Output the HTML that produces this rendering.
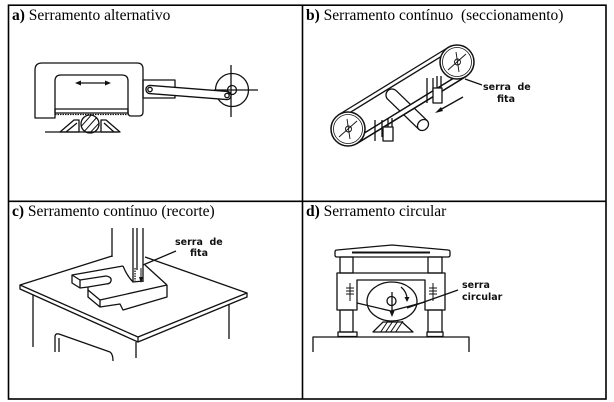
<!DOCTYPE html>
<html><head><meta charset="utf-8"><style>
html,body{margin:0;padding:0;background:#fff;}
svg{display:block;}
.t{font-family:"Liberation Serif",serif;font-size:15.5px;fill:#000;}
.l{font-family:"DejaVu Sans",sans-serif;font-weight:bold;font-size:9.5px;fill:#111;}
</style></head><body>
<svg width="614" height="402" viewBox="0 0 614 402" xmlns="http://www.w3.org/2000/svg">
<defs>
<clipPath id="cpa"><circle cx="90" cy="124" r="9"/></clipPath>
<clipPath id="cpd"><rect x="380" y="321" width="24" height="11"/></clipPath>
</defs>
<!-- table -->
<g stroke="#000" stroke-width="1.6" fill="none">
<rect x="8.5" y="5.2" width="597.5" height="393.8"/>
<line x1="302.5" y1="5" x2="302.5" y2="399"/>
<line x1="8" y1="201.3" x2="606" y2="201.3"/>
</g>
<text class="t" x="12" y="20"><tspan font-weight="bold">a)</tspan> Serramento alternativo</text>
<text class="t" x="306" y="20"><tspan font-weight="bold">b)</tspan> Serramento contínuo&#160; (seccionamento)</text>
<text class="t" x="12" y="216"><tspan font-weight="bold">c)</tspan> Serramento contínuo (recorte)</text>
<text class="t" x="306" y="216"><tspan font-weight="bold">d)</tspan> Serramento circular</text>

<!-- a) -->
<g stroke="#111" stroke-width="1.3" fill="none" stroke-linejoin="round">
<path d="M35,118 L35,70 Q35,63 42,63 L137,63 Q143,63 143,69 L143,112 Q143,116 139,116 L131,116 Q128,116 128,112 L128,81 Q128,75 122,75 L61,75 Q55,75 55,81 L55,118 Z"/>
<rect x="55" y="109" width="73" height="4"/>
<line x1="55" y1="114.5" x2="128" y2="114.5" stroke-dasharray="1.5 1"/>
<line x1="79" y1="83" x2="107" y2="83"/>
<rect x="143" y="80" width="32" height="18"/>
<circle cx="232" cy="90" r="16.5"/>
<line x1="231" y1="65" x2="231" y2="117"/>
<line x1="214" y1="90" x2="258" y2="90"/>
<line x1="150" y1="89.5" x2="227" y2="95.5" stroke-width="9.5" stroke-linecap="round"/>
<line x1="150" y1="89.5" x2="227" y2="95.5" stroke="#fff" stroke-width="6.8" stroke-linecap="round"/>
<circle cx="150" cy="89.5" r="2.2"/>
<circle cx="227" cy="95.5" r="2.2"/>
<circle cx="232" cy="90" r="4.5"/>
<line x1="45" y1="132" x2="118" y2="132"/>
<path d="M60,132 L74,120 L79,120 L79,132 Z"/>
<path d="M101,132 L101,120 L106,120 L120,132 Z"/>
<line x1="66" y1="132" x2="77" y2="123"/>
<line x1="104" y1="123" x2="114" y2="132"/>
<circle cx="90" cy="124" r="9"/>
<g clip-path="url(#cpa)" stroke-width="1">
<line x1="78" y1="130" x2="94" y2="112"/><line x1="82" y1="134" x2="98" y2="116"/><line x1="86" y1="137" x2="102" y2="120"/><line x1="74" y1="126" x2="90" y2="110"/>
</g>
</g>
<g fill="#111">
<polygon points="75,83 81,80.5 81,85.5"/>
<polygon points="111,83 105,80.5 105,85.5"/>
</g>

<!-- b) -->
<g stroke="#111" stroke-width="1.3" fill="none" stroke-linejoin="round">
<!-- cylinder -->
<path d="M387.8,99.3 L418.8,129.3 M396.2,90.7 L427.2,120.7 M387.8,99.3 A6,6 0 0 1 396.2,90.7"/>
<ellipse cx="423" cy="125" rx="6" ry="5" transform="rotate(-45 423 125)"/>
<!-- band -->
<polygon points="356.9,143.5 465.9,76.5 463.3,72.2 354.3,139.2" fill="#fff"/>
<line x1="339.1" y1="114.5" x2="448.1" y2="47.5"/>
<line x1="341.2" y1="117.9" x2="450.2" y2="50.9"/>
<line x1="356.9" y1="143.5" x2="465.9" y2="76.5" stroke-width="1.5"/>
<line x1="354.3" y1="139.2" x2="463.3" y2="72.2"/>
<circle cx="348" cy="129" r="17" fill="#fff" stroke-width="1.5"/>
<circle cx="348" cy="129" r="14.5" stroke-width="0.8"/>
<circle cx="457" cy="62" r="17" fill="#fff" stroke-width="1.5"/>
<circle cx="457" cy="62" r="14.5" stroke-width="0.8"/>
<g stroke-width="0.9">
<line x1="339" y1="137" x2="357" y2="121"/><line x1="347" y1="119" x2="350" y2="139"/><circle cx="348.5" cy="129" r="3"/>
<line x1="448" y1="70" x2="466" y2="54"/><line x1="456" y1="52" x2="459" y2="72"/><circle cx="457.5" cy="62" r="3"/>
</g>
<!-- guides -->
<line x1="375" y1="120" x2="375" y2="141"/><line x1="382" y1="120" x2="382" y2="137"/>
<line x1="388" y1="118" x2="388" y2="128"/><line x1="392" y1="118" x2="392" y2="128"/>
<rect x="383" y="127" width="10" height="14" fill="#fff"/>
<line x1="427" y1="78" x2="427" y2="103"/><line x1="433" y1="78" x2="433" y2="92"/>
<line x1="437" y1="76" x2="437" y2="88"/><line x1="441" y1="76" x2="441" y2="88"/>
<rect x="433" y="88" width="9" height="15" fill="#fff"/>
<!-- arrow & leader -->
<line x1="463" y1="97" x2="439" y2="110.5"/>
<line x1="465" y1="79" x2="482" y2="85"/>
</g>
<polygon points="435,113 441,107 443,111" fill="#111"/>
<text class="l" x="483" y="90">serra&#160; de</text>
<text class="l" x="497" y="102">fita</text>

<!-- c) -->
<g stroke="#111" stroke-width="1.3" fill="none" stroke-linejoin="round">
<polyline points="112,256 20,285 138,337 247,293 145,257"/>
<polyline points="20,285 20,289 138,342 247,297 247,293"/>
<line x1="138" y1="337" x2="138" y2="342"/>
<line x1="33" y1="295" x2="33" y2="347"/>
<line x1="136" y1="342" x2="136" y2="358"/>
<line x1="229" y1="304" x2="229" y2="339"/>
<path d="M55,352 L55,337 Q55,333 59,334 L110,352 Q113,354 113,361"/>
<path d="M59,352 L59,338"/>
<!-- column / blade -->
<line x1="112" y1="228" x2="112" y2="257"/>
<line x1="133" y1="228" x2="133" y2="282"/>
<line x1="137" y1="228" x2="137" y2="270"/>
<line x1="143" y1="228" x2="143" y2="282"/>
<line x1="135" y1="268" x2="135" y2="281" stroke-dasharray="1.5 1"/>
<path d="M123,266 Q127,276 133,282 L143,281"/>
<line x1="141" y1="268" x2="141" y2="280" stroke-width="1"/>
<!-- workpiece -->
<line x1="72" y1="275" x2="123" y2="266"/>
<path d="M72,275 L80,280 L80,288 L72,283 Z"/>
<path d="M80,280 L106,276 Q112,277 111,281 Q110,284 106,284 L88,287"/>
<line x1="80" y1="288" x2="88" y2="287"/>
<path d="M88,290 L100,300 L100,307 L88,297 Z"/>
<line x1="100" y1="300" x2="167" y2="285"/>
<path d="M100,307 L120,304 L123,310 L167,297 L167,285"/>
<line x1="145" y1="265" x2="167" y2="285"/>
<line x1="88" y1="290" x2="88" y2="287"/>
<line x1="176" y1="251" x2="143" y2="265"/>
</g>
<polygon points="141,283 139,277 143,277" fill="#111"/>
<text class="l" x="175" y="245">serra&#160; de</text>
<text class="l" x="190" y="256">fita</text>

<!-- d) -->
<g stroke="#111" stroke-width="1.3" fill="none" stroke-linejoin="round">
<path d="M337,257 Q335,257 335,255 L335,252 Q335,250 337,250 L392,245 L448,250 Q450,250 450,252 L450,255 Q450,257 448,257 Z"/>
<line x1="352" y1="252.5" x2="430" y2="252.5" stroke-width="2"/>
<rect x="340" y="257" width="13" height="16"/>
<rect x="428" y="257" width="14" height="16"/>
<path d="M337,273 L445,273 L445,310 L425,310 L425,280 L357,280 L357,310 L337,310 Z"/>
<rect x="340" y="310" width="13" height="22"/>
<rect x="428" y="310" width="14" height="22"/>
<rect x="338" y="332" width="19" height="4.5"/>
<rect x="427" y="332" width="16" height="4.5"/>
<path d="M313,352 L313,337 L469,337 L469,352"/>
<!-- springs -->
<g stroke-width="1">
<line x1="350" y1="283" x2="350" y2="301"/><line x1="346" y1="288" x2="354" y2="288"/><line x1="346" y1="291" x2="354" y2="291"/><line x1="346" y1="294" x2="354" y2="294"/>
<line x1="433" y1="283" x2="433" y2="301"/><line x1="429" y1="288" x2="437" y2="288"/><line x1="429" y1="291" x2="437" y2="291"/><line x1="429" y1="294" x2="437" y2="294"/>
</g>
<ellipse cx="392" cy="301.5" rx="25" ry="19.5"/>
<circle cx="391.5" cy="301" r="4.5"/>
<line x1="392" y1="292" x2="392" y2="313"/>
<polyline points="357,303 391,311 425,302"/>
<path d="M401,287 Q407,292 407,299"/>
<line x1="458" y1="290" x2="407" y2="308"/>
<!-- vise -->
<path d="M373,332 L383,322 L402,322 L413,332 Z"/>
<g clip-path="url(#cpd)" stroke-width="1">
<line x1="380" y1="333" x2="388" y2="321"/><line x1="385" y1="333" x2="393" y2="321"/><line x1="390" y1="333" x2="398" y2="321"/><line x1="395" y1="333" x2="403" y2="321"/>
</g>
</g>
<polygon points="392,317 389.5,311 394.5,311" fill="#111"/>
<polygon points="407,302 404.5,297 409.5,297" fill="#111"/>
<text class="l" x="462" y="288">serra</text>
<text class="l" x="462" y="300">circular</text>
</svg>
</body></html>
